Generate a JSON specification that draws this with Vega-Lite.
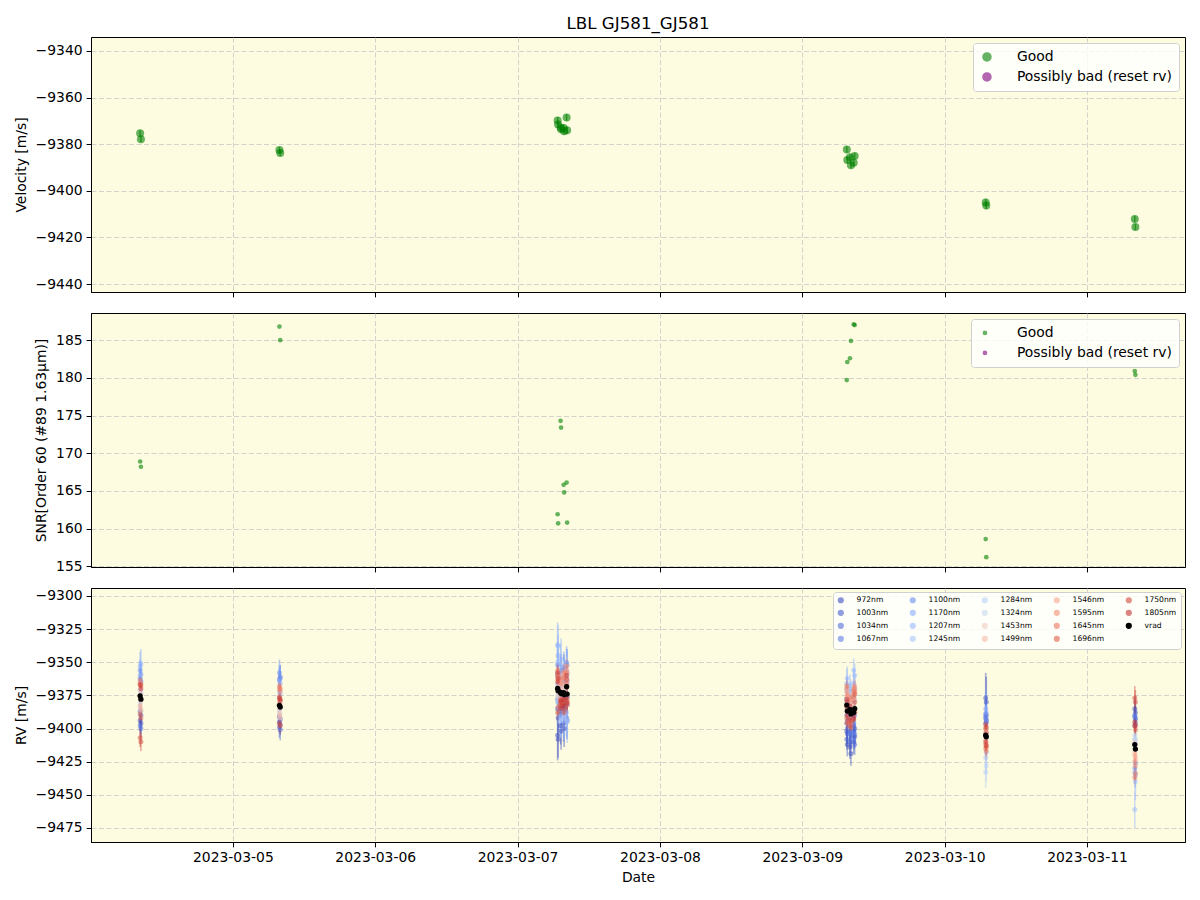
{
"$schema": "https://vega.github.io/schema/vega-lite/v6.json",
"padding": {"left": 13, "top": 15, "right": 15, "bottom": 10},
"title": {"text": "LBL GJ581_GJ581", "fontSize": 16.7, "fontWeight": "normal", "font": "DejaVu Sans", "anchor": "middle", "frame": "group", "offset": 4, "color": "black"},
"bounds": "flush",
"spacing": 21,
"resolve": {"scale": {"color": "independent", "x": "independent", "y": "independent"}, "legend": {"color": "independent"}},
"config": {
  "font": "DejaVu Sans",
  "background": "white",
  "view": {"stroke": "black", "strokeWidth": 1, "fill": "#fdfce1"},
  "axis": {"labelFontSize": 13.9, "titleFontSize": 13.9, "labelColor": "black", "titleColor": "black", "tickColor": "black", "domainColor": "black", "tickSize": 4.9, "labelPadding": 4, "titleFontWeight": "normal", "gridColor": "#c8c8c8", "gridDash": [5, 2.5], "gridWidth": 0.8, "domainWidth": 1, "tickWidth": 1, "titlePadding": 7, "labelFlush": false, "labelOverlap": false},
  "legend": {"title": null, "fillColor": "rgba(255,255,255,0.8)", "strokeColor": "#d0d0d0", "cornerRadius": 3, "labelColor": "black", "labelLimit": 400}
},
"datasets": {
"obs": [
{"o":"1a","t":"2023-03-04T08:22:00Z","vel":-9375.3,"ve":1.3,"snr":168.9,"q":"Good"},
{"o":"1b","t":"2023-03-04T08:30:00Z","vel":-9377.9,"ve":1.3,"snr":168.2,"q":"Good"},
{"o":"2a","t":"2023-03-05T07:51:00Z","vel":-9382.5,"ve":1.3,"snr":186.8,"q":"Good"},
{"o":"2b","t":"2023-03-05T07:59:00Z","vel":-9383.8,"ve":1.3,"snr":185.0,"q":"Good"},
{"o":"3a","t":"2023-03-07T06:45:00Z","vel":-9369.8,"ve":1.5,"snr":161.9,"q":"Good"},
{"o":"3b","t":"2023-03-07T06:50:00Z","vel":-9371.5,"ve":1.5,"snr":160.7,"q":"Good"},
{"o":"3c","t":"2023-03-07T07:15:00Z","vel":-9372.8,"ve":1.4,"snr":174.3,"q":"Good"},
{"o":"3d","t":"2023-03-07T07:20:00Z","vel":-9373.6,"ve":1.4,"snr":173.4,"q":"Good"},
{"o":"3e","t":"2023-03-07T07:46:00Z","vel":-9373.0,"ve":1.5,"snr":165.8,"q":"Good"},
{"o":"3f","t":"2023-03-07T08:16:00Z","vel":-9368.5,"ve":1.5,"snr":166.1,"q":"Good"},
{"o":"3g","t":"2023-03-07T07:51:00Z","vel":-9374.4,"ve":1.5,"snr":164.8,"q":"Good"},
{"o":"3h","t":"2023-03-07T08:21:00Z","vel":-9374.0,"ve":1.5,"snr":160.8,"q":"Good"},
{"o":"4a","t":"2023-03-09T07:30:00Z","vel":-9382.3,"ve":1.4,"snr":179.7,"q":"Good"},
{"o":"4b","t":"2023-03-09T07:35:00Z","vel":-9386.8,"ve":1.4,"snr":182.1,"q":"Good"},
{"o":"4c","t":"2023-03-09T08:02:00Z","vel":-9385.6,"ve":1.3,"snr":182.6,"q":"Good"},
{"o":"4d","t":"2023-03-09T08:12:00Z","vel":-9389.0,"ve":1.3,"snr":184.9,"q":"Good"},
{"o":"4e","t":"2023-03-09T08:40:00Z","vel":-9388.0,"ve":1.3,"snr":187.1,"q":"Good"},
{"o":"4f","t":"2023-03-09T08:50:00Z","vel":-9385.0,"ve":1.3,"snr":187.0,"q":"Good"},
{"o":"5a","t":"2023-03-10T06:55:00Z","vel":-9405.0,"ve":1.6,"snr":158.6,"q":"Good"},
{"o":"5b","t":"2023-03-10T07:01:00Z","vel":-9406.3,"ve":1.6,"snr":156.2,"q":"Good"},
{"o":"6a","t":"2023-03-11T08:03:00Z","vel":-9412.1,"ve":1.4,"snr":180.9,"q":"Good"},
{"o":"6b","t":"2023-03-11T08:09:00Z","vel":-9415.5,"ve":1.4,"snr":180.4,"q":"Good"}
],
"rv": [
{"o":"1a","w":"972nm","v":-9394,"e":8},{"o":"1b","w":"972nm","v":-9396,"e":8},{"o":"2a","w":"972nm","v":-9391,"e":8},{"o":"2b","w":"972nm","v":-9393,"e":8},
{"o":"3a","w":"972nm","v":-9405,"e":19},{"o":"3b","w":"972nm","v":-9408,"e":14},{"o":"3c","w":"972nm","v":-9398,"e":14},{"o":"3d","w":"972nm","v":-9402,"e":14},
{"o":"3e","w":"972nm","v":-9396,"e":14},{"o":"3f","w":"972nm","v":-9392,"e":14},{"o":"3g","w":"972nm","v":-9400,"e":14},{"o":"3h","w":"972nm","v":-9394,"e":14},
{"o":"4a","w":"972nm","v":-9402,"e":9},{"o":"4b","w":"972nm","v":-9412,"e":9},{"o":"4c","w":"972nm","v":-9414,"e":9},{"o":"4d","w":"972nm","v":-9419,"e":9},
{"o":"4e","w":"972nm","v":-9410,"e":9},{"o":"4f","w":"972nm","v":-9406,"e":9},{"o":"5a","w":"972nm","v":-9377,"e":19},{"o":"5b","w":"972nm","v":-9380,"e":19},
{"o":"6a","w":"972nm","v":-9385,"e":9},{"o":"6b","w":"972nm","v":-9388,"e":9},

{"o":"1a","w":"1003nm","v":-9387,"e":7},{"o":"1b","w":"1003nm","v":-9390,"e":7},{"o":"2a","w":"1003nm","v":-9395,"e":8},{"o":"2b","w":"1003nm","v":-9397,"e":8},
{"o":"3a","w":"1003nm","v":-9385,"e":11},{"o":"3b","w":"1003nm","v":-9392,"e":11},{"o":"3c","w":"1003nm","v":-9390,"e":11},{"o":"3d","w":"1003nm","v":-9388,"e":11},
{"o":"3e","w":"1003nm","v":-9384,"e":11},{"o":"3f","w":"1003nm","v":-9380,"e":11},{"o":"3g","w":"1003nm","v":-9386,"e":11},{"o":"3h","w":"1003nm","v":-9382,"e":11},
{"o":"4a","w":"1003nm","v":-9408,"e":8},{"o":"4b","w":"1003nm","v":-9404,"e":8},{"o":"4c","w":"1003nm","v":-9410,"e":8},{"o":"4d","w":"1003nm","v":-9406,"e":8},
{"o":"4e","w":"1003nm","v":-9402,"e":8},{"o":"4f","w":"1003nm","v":-9400,"e":8},{"o":"5a","w":"1003nm","v":-9392,"e":12},{"o":"5b","w":"1003nm","v":-9395,"e":12},
{"o":"6a","w":"1003nm","v":-9391,"e":8},{"o":"6b","w":"1003nm","v":-9393,"e":8},

{"o":"1a","w":"1034nm","v":-9398,"e":7},{"o":"1b","w":"1034nm","v":-9400,"e":7},{"o":"2a","w":"1034nm","v":-9399,"e":8},{"o":"2b","w":"1034nm","v":-9401,"e":8},
{"o":"3a","w":"1034nm","v":-9378,"e":10},{"o":"3b","w":"1034nm","v":-9380,"e":10},{"o":"3c","w":"1034nm","v":-9384,"e":10},{"o":"3d","w":"1034nm","v":-9376,"e":10},
{"o":"3e","w":"1034nm","v":-9378,"e":10},{"o":"3f","w":"1034nm","v":-9374,"e":10},{"o":"3g","w":"1034nm","v":-9380,"e":10},{"o":"3h","w":"1034nm","v":-9376,"e":10},
{"o":"4a","w":"1034nm","v":-9396,"e":8},{"o":"4b","w":"1034nm","v":-9400,"e":8},{"o":"4c","w":"1034nm","v":-9402,"e":8},{"o":"4d","w":"1034nm","v":-9404,"e":8},
{"o":"4e","w":"1034nm","v":-9398,"e":8},{"o":"4f","w":"1034nm","v":-9412,"e":8},{"o":"5a","w":"1034nm","v":-9389,"e":11},{"o":"5b","w":"1034nm","v":-9390,"e":11},
{"o":"6a","w":"1034nm","v":-9398,"e":8},{"o":"6b","w":"1034nm","v":-9396,"e":8},

{"o":"1a","w":"1067nm","v":-9362,"e":7},{"o":"1b","w":"1067nm","v":-9365,"e":7},{"o":"2a","w":"1067nm","v":-9363,"e":9},{"o":"2b","w":"1067nm","v":-9361,"e":9},
{"o":"3a","w":"1067nm","v":-9360,"e":10},{"o":"3b","w":"1067nm","v":-9366,"e":10},{"o":"3c","w":"1067nm","v":-9372,"e":10},{"o":"3d","w":"1067nm","v":-9368,"e":10},
{"o":"3e","w":"1067nm","v":-9364,"e":10},{"o":"3f","w":"1067nm","v":-9362,"e":10},{"o":"3g","w":"1067nm","v":-9366,"e":10},{"o":"3h","w":"1067nm","v":-9364,"e":10},
{"o":"4a","w":"1067nm","v":-9390,"e":8},{"o":"4b","w":"1067nm","v":-9394,"e":8},{"o":"4c","w":"1067nm","v":-9404,"e":8},{"o":"4d","w":"1067nm","v":-9398,"e":8},
{"o":"4e","w":"1067nm","v":-9408,"e":8},{"o":"4f","w":"1067nm","v":-9404,"e":8},{"o":"5a","w":"1067nm","v":-9396,"e":11},{"o":"5b","w":"1067nm","v":-9394,"e":11},
{"o":"6a","w":"1067nm","v":-9390,"e":8},{"o":"6b","w":"1067nm","v":-9392,"e":8},

{"o":"1a","w":"1100nm","v":-9356,"e":8},{"o":"1b","w":"1100nm","v":-9359,"e":8},{"o":"2a","w":"1100nm","v":-9358,"e":10},{"o":"2b","w":"1100nm","v":-9362,"e":10},
{"o":"3a","w":"1100nm","v":-9352,"e":12},{"o":"3b","w":"1100nm","v":-9358,"e":12},{"o":"3c","w":"1100nm","v":-9362,"e":12},{"o":"3d","w":"1100nm","v":-9356,"e":12},
{"o":"3e","w":"1100nm","v":-9354,"e":12},{"o":"3f","w":"1100nm","v":-9350,"e":12},{"o":"3g","w":"1100nm","v":-9356,"e":12},{"o":"3h","w":"1100nm","v":-9352,"e":12},
{"o":"4a","w":"1100nm","v":-9378,"e":9},{"o":"4b","w":"1100nm","v":-9384,"e":9},{"o":"4c","w":"1100nm","v":-9392,"e":9},{"o":"4d","w":"1100nm","v":-9388,"e":9},
{"o":"4e","w":"1100nm","v":-9396,"e":9},{"o":"4f","w":"1100nm","v":-9390,"e":9},{"o":"5a","w":"1100nm","v":-9391,"e":12},{"o":"5b","w":"1100nm","v":-9393,"e":12},
{"o":"6a","w":"1100nm","v":-9430,"e":9},{"o":"6b","w":"1100nm","v":-9426,"e":9},

{"o":"1a","w":"1170nm","v":-9353,"e":11},{"o":"1b","w":"1170nm","v":-9351,"e":11},{"o":"2a","w":"1170nm","v":-9364,"e":12},{"o":"2b","w":"1170nm","v":-9366,"e":12},
{"o":"3a","w":"1170nm","v":-9337,"e":17},{"o":"3b","w":"1170nm","v":-9345,"e":16},{"o":"3c","w":"1170nm","v":-9352,"e":16},{"o":"3d","w":"1170nm","v":-9348,"e":16},
{"o":"3e","w":"1170nm","v":-9360,"e":16},{"o":"3f","w":"1170nm","v":-9356,"e":16},{"o":"3g","w":"1170nm","v":-9362,"e":16},{"o":"3h","w":"1170nm","v":-9358,"e":16},
{"o":"4a","w":"1170nm","v":-9366,"e":11},{"o":"4b","w":"1170nm","v":-9372,"e":11},{"o":"4c","w":"1170nm","v":-9376,"e":11},{"o":"4d","w":"1170nm","v":-9380,"e":11},
{"o":"4e","w":"1170nm","v":-9366,"e":11},{"o":"4f","w":"1170nm","v":-9370,"e":11},{"o":"5a","w":"1170nm","v":-9385,"e":14},{"o":"5b","w":"1170nm","v":-9388,"e":14},
{"o":"6a","w":"1170nm","v":-9433,"e":11},{"o":"6b","w":"1170nm","v":-9435,"e":11},

{"o":"1a","w":"1207nm","v":-9360,"e":10},{"o":"1b","w":"1207nm","v":-9364,"e":10},{"o":"2a","w":"1207nm","v":-9372,"e":12},{"o":"2b","w":"1207nm","v":-9374,"e":12},
{"o":"3a","w":"1207nm","v":-9350,"e":16},{"o":"3b","w":"1207nm","v":-9338,"e":16},{"o":"3c","w":"1207nm","v":-9390,"e":16},{"o":"3d","w":"1207nm","v":-9386,"e":16},
{"o":"3e","w":"1207nm","v":-9394,"e":16},{"o":"3f","w":"1207nm","v":-9388,"e":16},{"o":"3g","w":"1207nm","v":-9392,"e":16},{"o":"3h","w":"1207nm","v":-9395,"e":16},
{"o":"4a","w":"1207nm","v":-9370,"e":9},{"o":"4b","w":"1207nm","v":-9362,"e":9},{"o":"4c","w":"1207nm","v":-9368,"e":9},{"o":"4d","w":"1207nm","v":-9372,"e":9},
{"o":"4e","w":"1207nm","v":-9356,"e":9},{"o":"4f","w":"1207nm","v":-9360,"e":9},{"o":"5a","w":"1207nm","v":-9404,"e":14},{"o":"5b","w":"1207nm","v":-9406,"e":14},
{"o":"6a","w":"1207nm","v":-9461,"e":14},{"o":"6b","w":"1207nm","v":-9440,"e":14},

{"o":"1a","w":"1245nm","v":-9371,"e":9},{"o":"1b","w":"1245nm","v":-9373,"e":9},{"o":"2a","w":"1245nm","v":-9386,"e":10},{"o":"2b","w":"1245nm","v":-9383,"e":10},
{"o":"3a","w":"1245nm","v":-9368,"e":14},{"o":"3b","w":"1245nm","v":-9360,"e":14},{"o":"3c","w":"1245nm","v":-9394,"e":14},{"o":"3d","w":"1245nm","v":-9392,"e":14},
{"o":"3e","w":"1245nm","v":-9388,"e":14},{"o":"3f","w":"1245nm","v":-9392,"e":14},{"o":"3g","w":"1245nm","v":-9390,"e":14},{"o":"3h","w":"1245nm","v":-9394,"e":14},
{"o":"4a","w":"1245nm","v":-9380,"e":10},{"o":"4b","w":"1245nm","v":-9386,"e":10},{"o":"4c","w":"1245nm","v":-9390,"e":10},{"o":"4d","w":"1245nm","v":-9392,"e":10},
{"o":"4e","w":"1245nm","v":-9385,"e":10},{"o":"4f","w":"1245nm","v":-9378,"e":10},{"o":"5a","w":"1245nm","v":-9422,"e":13},{"o":"5b","w":"1245nm","v":-9418,"e":13},
{"o":"6a","w":"1245nm","v":-9408,"e":10},{"o":"6b","w":"1245nm","v":-9411,"e":10},

{"o":"1a","w":"1284nm","v":-9381,"e":9},{"o":"1b","w":"1284nm","v":-9378,"e":9},{"o":"2a","w":"1284nm","v":-9389,"e":10},{"o":"2b","w":"1284nm","v":-9392,"e":10},
{"o":"3a","w":"1284nm","v":-9375,"e":12},{"o":"3b","w":"1284nm","v":-9378,"e":12},{"o":"3c","w":"1284nm","v":-9370,"e":12},{"o":"3d","w":"1284nm","v":-9372,"e":12},
{"o":"3e","w":"1284nm","v":-9368,"e":12},{"o":"3f","w":"1284nm","v":-9364,"e":12},{"o":"3g","w":"1284nm","v":-9370,"e":12},{"o":"3h","w":"1284nm","v":-9366,"e":12},
{"o":"4a","w":"1284nm","v":-9376,"e":9},{"o":"4b","w":"1284nm","v":-9380,"e":9},{"o":"4c","w":"1284nm","v":-9384,"e":9},{"o":"4d","w":"1284nm","v":-9386,"e":9},
{"o":"4e","w":"1284nm","v":-9380,"e":9},{"o":"4f","w":"1284nm","v":-9374,"e":9},{"o":"5a","w":"1284nm","v":-9433,"e":12},{"o":"5b","w":"1284nm","v":-9428,"e":12},
{"o":"6a","w":"1284nm","v":-9405,"e":9},{"o":"6b","w":"1284nm","v":-9408,"e":9},

{"o":"1a","w":"1324nm","v":-9384,"e":9},{"o":"1b","w":"1324nm","v":-9387,"e":9},{"o":"2a","w":"1324nm","v":-9377,"e":9},{"o":"2b","w":"1324nm","v":-9379,"e":9},
{"o":"3a","w":"1324nm","v":-9380,"e":12},{"o":"3b","w":"1324nm","v":-9384,"e":12},{"o":"3c","w":"1324nm","v":-9366,"e":12},{"o":"3d","w":"1324nm","v":-9362,"e":12},
{"o":"3e","w":"1324nm","v":-9360,"e":12},{"o":"3f","w":"1324nm","v":-9358,"e":12},{"o":"3g","w":"1324nm","v":-9362,"e":12},{"o":"3h","w":"1324nm","v":-9360,"e":12},
{"o":"4a","w":"1324nm","v":-9372,"e":9},{"o":"4b","w":"1324nm","v":-9378,"e":9},{"o":"4c","w":"1324nm","v":-9374,"e":9},{"o":"4d","w":"1324nm","v":-9380,"e":9},
{"o":"4e","w":"1324nm","v":-9376,"e":9},{"o":"4f","w":"1324nm","v":-9370,"e":9},{"o":"5a","w":"1324nm","v":-9404,"e":12},{"o":"5b","w":"1324nm","v":-9407,"e":12},
{"o":"6a","w":"1324nm","v":-9412,"e":9},{"o":"6b","w":"1324nm","v":-9415,"e":9},

{"o":"1a","w":"1453nm","v":-9371,"e":6},{"o":"1b","w":"1453nm","v":-9374,"e":6},{"o":"2a","w":"1453nm","v":-9387,"e":6},{"o":"2b","w":"1453nm","v":-9389,"e":6},
{"o":"3a","w":"1453nm","v":-9372,"e":8},{"o":"3b","w":"1453nm","v":-9376,"e":8},{"o":"3c","w":"1453nm","v":-9374,"e":8},{"o":"3d","w":"1453nm","v":-9378,"e":8},
{"o":"3e","w":"1453nm","v":-9370,"e":8},{"o":"3f","w":"1453nm","v":-9366,"e":8},{"o":"3g","w":"1453nm","v":-9372,"e":8},{"o":"3h","w":"1453nm","v":-9368,"e":8},
{"o":"4a","w":"1453nm","v":-9380,"e":6},{"o":"4b","w":"1453nm","v":-9384,"e":6},{"o":"4c","w":"1453nm","v":-9386,"e":6},{"o":"4d","w":"1453nm","v":-9388,"e":6},
{"o":"4e","w":"1453nm","v":-9382,"e":6},{"o":"4f","w":"1453nm","v":-9378,"e":6},{"o":"5a","w":"1453nm","v":-9402,"e":8},{"o":"5b","w":"1453nm","v":-9404,"e":8},
{"o":"6a","w":"1453nm","v":-9410,"e":6},{"o":"6b","w":"1453nm","v":-9414,"e":6},

{"o":"1a","w":"1499nm","v":-9376,"e":5},{"o":"1b","w":"1499nm","v":-9379,"e":5},{"o":"2a","w":"1499nm","v":-9390,"e":6},{"o":"2b","w":"1499nm","v":-9392,"e":6},
{"o":"3a","w":"1499nm","v":-9362,"e":7},{"o":"3b","w":"1499nm","v":-9368,"e":7},{"o":"3c","w":"1499nm","v":-9370,"e":7},{"o":"3d","w":"1499nm","v":-9372,"e":7},
{"o":"3e","w":"1499nm","v":-9366,"e":7},{"o":"3f","w":"1499nm","v":-9362,"e":7},{"o":"3g","w":"1499nm","v":-9368,"e":7},{"o":"3h","w":"1499nm","v":-9364,"e":7},
{"o":"4a","w":"1499nm","v":-9376,"e":6},{"o":"4b","w":"1499nm","v":-9380,"e":6},{"o":"4c","w":"1499nm","v":-9382,"e":6},{"o":"4d","w":"1499nm","v":-9384,"e":6},
{"o":"4e","w":"1499nm","v":-9378,"e":6},{"o":"4f","w":"1499nm","v":-9374,"e":6},{"o":"5a","w":"1499nm","v":-9400,"e":7},{"o":"5b","w":"1499nm","v":-9403,"e":7},
{"o":"6a","w":"1499nm","v":-9418,"e":6},{"o":"6b","w":"1499nm","v":-9421,"e":6},

{"o":"1a","w":"1546nm","v":-9383,"e":5},{"o":"1b","w":"1546nm","v":-9386,"e":5},{"o":"2a","w":"1546nm","v":-9380,"e":5},{"o":"2b","w":"1546nm","v":-9382,"e":5},
{"o":"3a","w":"1546nm","v":-9358,"e":6},{"o":"3b","w":"1546nm","v":-9362,"e":6},{"o":"3c","w":"1546nm","v":-9366,"e":6},{"o":"3d","w":"1546nm","v":-9364,"e":6},
{"o":"3e","w":"1546nm","v":-9360,"e":6},{"o":"3f","w":"1546nm","v":-9356,"e":6},{"o":"3g","w":"1546nm","v":-9362,"e":6},{"o":"3h","w":"1546nm","v":-9358,"e":6},
{"o":"4a","w":"1546nm","v":-9372,"e":5},{"o":"4b","w":"1546nm","v":-9376,"e":5},{"o":"4c","w":"1546nm","v":-9378,"e":5},{"o":"4d","w":"1546nm","v":-9380,"e":5},
{"o":"4e","w":"1546nm","v":-9374,"e":5},{"o":"4f","w":"1546nm","v":-9370,"e":5},{"o":"5a","w":"1546nm","v":-9408,"e":6},{"o":"5b","w":"1546nm","v":-9411,"e":6},
{"o":"6a","w":"1546nm","v":-9420,"e":5},{"o":"6b","w":"1546nm","v":-9423,"e":5},

{"o":"1a","w":"1595nm","v":-9366,"e":5},{"o":"1b","w":"1595nm","v":-9368,"e":5},{"o":"2a","w":"1595nm","v":-9370,"e":5},{"o":"2b","w":"1595nm","v":-9372,"e":5},
{"o":"3a","w":"1595nm","v":-9356,"e":6},{"o":"3b","w":"1595nm","v":-9360,"e":6},{"o":"3c","w":"1595nm","v":-9362,"e":6},{"o":"3d","w":"1595nm","v":-9366,"e":6},
{"o":"3e","w":"1595nm","v":-9357,"e":6},{"o":"3f","w":"1595nm","v":-9353,"e":6},{"o":"3g","w":"1595nm","v":-9359,"e":6},{"o":"3h","w":"1595nm","v":-9380,"e":6},
{"o":"4a","w":"1595nm","v":-9370,"e":5},{"o":"4b","w":"1595nm","v":-9374,"e":5},{"o":"4c","w":"1595nm","v":-9376,"e":5},{"o":"4d","w":"1595nm","v":-9378,"e":5},
{"o":"4e","w":"1595nm","v":-9372,"e":5},{"o":"4f","w":"1595nm","v":-9368,"e":5},{"o":"5a","w":"1595nm","v":-9412,"e":6},{"o":"5b","w":"1595nm","v":-9414,"e":6},
{"o":"6a","w":"1595nm","v":-9425,"e":5},{"o":"6b","w":"1595nm","v":-9428,"e":5},

{"o":"1a","w":"1645nm","v":-9364,"e":5},{"o":"1b","w":"1645nm","v":-9367,"e":5},{"o":"2a","w":"1645nm","v":-9368,"e":5},{"o":"2b","w":"1645nm","v":-9370,"e":5},
{"o":"3a","w":"1645nm","v":-9360,"e":6},{"o":"3b","w":"1645nm","v":-9364,"e":6},{"o":"3c","w":"1645nm","v":-9378,"e":6},{"o":"3d","w":"1645nm","v":-9380,"e":6},
{"o":"3e","w":"1645nm","v":-9362,"e":6},{"o":"3f","w":"1645nm","v":-9358,"e":6},{"o":"3g","w":"1645nm","v":-9380,"e":6},{"o":"3h","w":"1645nm","v":-9382,"e":6},
{"o":"4a","w":"1645nm","v":-9368,"e":5},{"o":"4b","w":"1645nm","v":-9396,"e":5},{"o":"4c","w":"1645nm","v":-9394,"e":5},{"o":"4d","w":"1645nm","v":-9396,"e":5},
{"o":"4e","w":"1645nm","v":-9370,"e":5},{"o":"4f","w":"1645nm","v":-9372,"e":5},{"o":"5a","w":"1645nm","v":-9415,"e":6},{"o":"5b","w":"1645nm","v":-9417,"e":6},
{"o":"6a","w":"1645nm","v":-9437,"e":5},{"o":"6b","w":"1645nm","v":-9434,"e":5},

{"o":"1a","w":"1696nm","v":-9389,"e":5},{"o":"1b","w":"1696nm","v":-9392,"e":5},{"o":"2a","w":"1696nm","v":-9376,"e":5},{"o":"2b","w":"1696nm","v":-9378,"e":5},
{"o":"3a","w":"1696nm","v":-9388,"e":6},{"o":"3b","w":"1696nm","v":-9384,"e":6},{"o":"3c","w":"1696nm","v":-9382,"e":6},{"o":"3d","w":"1696nm","v":-9378,"e":6},
{"o":"3e","w":"1696nm","v":-9378,"e":6},{"o":"3f","w":"1696nm","v":-9366,"e":6},{"o":"3g","w":"1696nm","v":-9385,"e":6},{"o":"3h","w":"1696nm","v":-9379,"e":6},
{"o":"4a","w":"1696nm","v":-9392,"e":5},{"o":"4b","w":"1696nm","v":-9395,"e":5},{"o":"4c","w":"1696nm","v":-9398,"e":5},{"o":"4d","w":"1696nm","v":-9399,"e":5},
{"o":"4e","w":"1696nm","v":-9376,"e":5},{"o":"4f","w":"1696nm","v":-9374,"e":5},{"o":"5a","w":"1696nm","v":-9400,"e":6},{"o":"5b","w":"1696nm","v":-9403,"e":6},
{"o":"6a","w":"1696nm","v":-9398,"e":5},{"o":"6b","w":"1696nm","v":-9401,"e":5},

{"o":"1a","w":"1750nm","v":-9407,"e":7},{"o":"1b","w":"1750nm","v":-9410,"e":7},{"o":"2a","w":"1750nm","v":-9396,"e":6},{"o":"2b","w":"1750nm","v":-9398,"e":6},
{"o":"3a","w":"1750nm","v":-9365,"e":7},{"o":"3b","w":"1750nm","v":-9370,"e":7},{"o":"3c","w":"1750nm","v":-9380,"e":7},{"o":"3d","w":"1750nm","v":-9383,"e":7},
{"o":"3e","w":"1750nm","v":-9381,"e":7},{"o":"3f","w":"1750nm","v":-9363,"e":7},{"o":"3g","w":"1750nm","v":-9388,"e":7},{"o":"3h","w":"1750nm","v":-9377,"e":7},
{"o":"4a","w":"1750nm","v":-9384,"e":6},{"o":"4b","w":"1750nm","v":-9390,"e":6},{"o":"4c","w":"1750nm","v":-9392,"e":6},{"o":"4d","w":"1750nm","v":-9394,"e":6},
{"o":"4e","w":"1750nm","v":-9393,"e":6},{"o":"4f","w":"1750nm","v":-9380,"e":6},{"o":"5a","w":"1750nm","v":-9397,"e":7},{"o":"5b","w":"1750nm","v":-9399,"e":7},
{"o":"6a","w":"1750nm","v":-9377,"e":9},{"o":"6b","w":"1750nm","v":-9380,"e":9},

{"o":"1a","w":"1805nm","v":-9367,"e":6},{"o":"1b","w":"1805nm","v":-9370,"e":6},{"o":"2a","w":"1805nm","v":-9377,"e":6},{"o":"2b","w":"1805nm","v":-9379,"e":6},
{"o":"3a","w":"1805nm","v":-9358,"e":7},{"o":"3b","w":"1805nm","v":-9362,"e":7},{"o":"3c","w":"1805nm","v":-9385,"e":7},{"o":"3d","w":"1805nm","v":-9379,"e":7},
{"o":"3e","w":"1805nm","v":-9383,"e":7},{"o":"3f","w":"1805nm","v":-9360,"e":7},{"o":"3g","w":"1805nm","v":-9378,"e":7},{"o":"3h","w":"1805nm","v":-9381,"e":7},
{"o":"4a","w":"1805nm","v":-9378,"e":6},{"o":"4b","w":"1805nm","v":-9380,"e":6},{"o":"4c","w":"1805nm","v":-9383,"e":6},{"o":"4d","w":"1805nm","v":-9386,"e":6},
{"o":"4e","w":"1805nm","v":-9391,"e":6},{"o":"4f","w":"1805nm","v":-9388,"e":6},{"o":"5a","w":"1805nm","v":-9410,"e":7},{"o":"5b","w":"1805nm","v":-9413,"e":7},
{"o":"6a","w":"1805nm","v":-9395,"e":6},{"o":"6b","w":"1805nm","v":-9398,"e":6}
]
},
"vconcat": [
{
 "width": 1094, "height": 255,
 "data": {"name": "obs"},
 "encoding": {
   "x": {"field": "t", "type": "temporal", "scale": {"type": "utc", "domain": [{"year":2023,"month":3,"date":4,"hours":0,"minutes":5,"utc":true},{"year":2023,"month":3,"date":11,"hours":16,"minutes":31,"utc":true}]},
         "axis": {"title": null, "labels": false, "grid": true, "values": [{"year":2023,"month":3,"date":5,"utc":true},{"year":2023,"month":3,"date":6,"utc":true},{"year":2023,"month":3,"date":7,"utc":true},{"year":2023,"month":3,"date":8,"utc":true},{"year":2023,"month":3,"date":9,"utc":true},{"year":2023,"month":3,"date":10,"utc":true},{"year":2023,"month":3,"date":11,"utc":true}]}},
   "y": {"field": "vel", "type": "quantitative", "scale": {"domain": [-9443.4, -9334], "nice": false, "zero": false},
         "axis": {"title": "Velocity [m/s]", "grid": true, "format": "d", "values": [-9440, -9420, -9400, -9380, -9360, -9340]}},
   "color": {"field": "q", "type": "nominal", "scale": {"domain": ["Good", "Possibly bad (reset rv)"], "range": ["green", "purple"]},
             "legend": {"orient": "top-right", "offset": 6, "padding": 7, "labelFontSize": 13.9, "symbolSize": 64, "rowPadding": 5, "labelOffset": 23, "symbolType": "circle", "symbolOpacity": 0.6}}
 },
 "layer": [
   {"mark": {"type": "point", "filled": true, "size": 64, "opacity": 0.6}},
   {"mark": {"type": "errorbar", "ticks": false, "opacity": 0.6, "rule": {"strokeWidth": 1.5}}, "encoding": {"yError": {"field": "ve"}}}
 ]
},
{
 "width": 1094, "height": 254,
 "data": {"name": "obs"},
 "encoding": {
   "x": {"field": "t", "type": "temporal", "scale": {"type": "utc", "domain": [{"year":2023,"month":3,"date":4,"hours":0,"minutes":5,"utc":true},{"year":2023,"month":3,"date":11,"hours":16,"minutes":31,"utc":true}]},
         "axis": {"title": null, "labels": false, "grid": true, "values": [{"year":2023,"month":3,"date":5,"utc":true},{"year":2023,"month":3,"date":6,"utc":true},{"year":2023,"month":3,"date":7,"utc":true},{"year":2023,"month":3,"date":8,"utc":true},{"year":2023,"month":3,"date":9,"utc":true},{"year":2023,"month":3,"date":10,"utc":true},{"year":2023,"month":3,"date":11,"utc":true}]}},
   "y": {"field": "snr", "type": "quantitative", "scale": {"domain": [154.9, 188.6], "nice": false, "zero": false},
         "axis": {"title": "SNR[Order 60 (#89 1.63μm)]", "grid": true, "format": "d", "values": [155, 160, 165, 170, 175, 180, 185]}},
   "color": {"field": "q", "type": "nominal", "scale": {"domain": ["Good", "Possibly bad (reset rv)"], "range": ["green", "purple"]},
             "legend": {"orient": "top-right", "offset": 6, "padding": 7, "labelFontSize": 13.9, "symbolSize": 22, "rowPadding": 5, "labelOffset": 25, "symbolType": "circle", "symbolOpacity": 0.6}}
 },
 "mark": {"type": "point", "filled": true, "size": 22, "opacity": 0.6}
},
{
 "width": 1094, "height": 254,
 "layer": [
   {
    "data": {"name": "rv"},
    "transform": [{"lookup": "o", "from": {"data": {"name": "obs"}, "key": "o", "fields": ["t"]}}],
    "mark": {"type": "errorbar", "ticks": false, "opacity": 0.45, "rule": {"strokeWidth": 1.6}},
    "encoding": {
      "x": {"field": "t", "type": "temporal", "scale": {"type": "utc", "domain": [{"year":2023,"month":3,"date":4,"hours":0,"minutes":5,"utc":true},{"year":2023,"month":3,"date":11,"hours":16,"minutes":31,"utc":true}]},
            "axis": {"title": "Date", "labels": true, "grid": true, "labelExpr": "utcFormat(datum.value, '%Y-%m-%d')", "titlePadding": 6, "values": [{"year":2023,"month":3,"date":5,"utc":true},{"year":2023,"month":3,"date":6,"utc":true},{"year":2023,"month":3,"date":7,"utc":true},{"year":2023,"month":3,"date":8,"utc":true},{"year":2023,"month":3,"date":9,"utc":true},{"year":2023,"month":3,"date":10,"utc":true},{"year":2023,"month":3,"date":11,"utc":true}]}},
      "y": {"field": "v", "type": "quantitative", "scale": {"domain": [-9485.6, -9294], "nice": false, "zero": false},
            "axis": {"title": "RV [m/s]", "grid": true, "format": "d", "values": [-9475, -9450, -9425, -9400, -9375, -9350, -9325, -9300]}},
      "yError": {"field": "e"},
      "color": {"field": "w", "type": "nominal",
        "scale": {"domain": ["972nm","1003nm","1034nm","1067nm","1100nm","1170nm","1207nm","1245nm","1284nm","1324nm","1453nm","1499nm","1546nm","1595nm","1645nm","1696nm","1750nm","1805nm","vrad"],
                  "range": ["#3b4cc0","#455bcd","#516cdb","#5e7de7","#6b8df0","#89acfd","#98b9ff","#a7c7fd","#b7d1f8","#c6d9ef","#f0ccbf","#f7baa6","#faa68d","#f48e74","#ec755d","#de604b","#d0473d","#c43232","#000000"]},
        "legend": {"orient": "top-right", "offset": 4, "columns": 5, "padding": 4, "labelFontSize": 7.6, "symbolSize": 22, "rowPadding": 1, "columnPadding": 18, "labelOffset": 12, "symbolType": "circle", "symbolOpacity": 0.6,
                   "encode": {"symbols": {"update": {"opacity": {"signal": "datum.value === 'vrad' ? 1 : 0.6"}}}}}}
    }
   },
   {
    "data": {"name": "rv"},
    "transform": [{"lookup": "o", "from": {"data": {"name": "obs"}, "key": "o", "fields": ["t"]}}],
    "mark": {"type": "point", "filled": true, "size": 25, "opacity": 0.5},
    "encoding": {
      "x": {"field": "t", "type": "temporal",
            "axis": {"title": "Date", "labels": true, "grid": true, "labelExpr": "utcFormat(datum.value, '%Y-%m-%d')", "titlePadding": 6, "values": [{"year":2023,"month":3,"date":5,"utc":true},{"year":2023,"month":3,"date":6,"utc":true},{"year":2023,"month":3,"date":7,"utc":true},{"year":2023,"month":3,"date":8,"utc":true},{"year":2023,"month":3,"date":9,"utc":true},{"year":2023,"month":3,"date":10,"utc":true},{"year":2023,"month":3,"date":11,"utc":true}]}},
      "y": {"field": "v", "type": "quantitative",
            "axis": {"title": "RV [m/s]", "grid": true, "format": "d", "values": [-9475, -9450, -9425, -9400, -9375, -9350, -9325, -9300]}},
      "color": {"field": "w", "type": "nominal"}
    }
   },
   {
    "data": {"name": "obs"},
    "mark": {"type": "errorbar", "ticks": false, "opacity": 1, "rule": {"strokeWidth": 1.6}},
    "encoding": {
      "x": {"field": "t", "type": "temporal",
            "axis": {"title": "Date", "labels": true, "grid": true, "labelExpr": "utcFormat(datum.value, '%Y-%m-%d')", "titlePadding": 6, "values": [{"year":2023,"month":3,"date":5,"utc":true},{"year":2023,"month":3,"date":6,"utc":true},{"year":2023,"month":3,"date":7,"utc":true},{"year":2023,"month":3,"date":8,"utc":true},{"year":2023,"month":3,"date":9,"utc":true},{"year":2023,"month":3,"date":10,"utc":true},{"year":2023,"month":3,"date":11,"utc":true}]}},
      "y": {"field": "vel", "type": "quantitative",
            "axis": {"title": "RV [m/s]", "grid": true, "format": "d", "values": [-9475, -9450, -9425, -9400, -9375, -9350, -9325, -9300]}},
      "yError": {"field": "ve"},
      "color": {"datum": "vrad", "type": "nominal"}
    }
   },
   {
    "data": {"name": "obs"},
    "mark": {"type": "point", "filled": true, "size": 28, "opacity": 1},
    "encoding": {
      "x": {"field": "t", "type": "temporal",
            "axis": {"title": "Date", "labels": true, "grid": true, "labelExpr": "utcFormat(datum.value, '%Y-%m-%d')", "titlePadding": 6, "values": [{"year":2023,"month":3,"date":5,"utc":true},{"year":2023,"month":3,"date":6,"utc":true},{"year":2023,"month":3,"date":7,"utc":true},{"year":2023,"month":3,"date":8,"utc":true},{"year":2023,"month":3,"date":9,"utc":true},{"year":2023,"month":3,"date":10,"utc":true},{"year":2023,"month":3,"date":11,"utc":true}]}},
      "y": {"field": "vel", "type": "quantitative",
            "axis": {"title": "RV [m/s]", "grid": true, "format": "d", "values": [-9475, -9450, -9425, -9400, -9375, -9350, -9325, -9300]}},
      "color": {"datum": "vrad", "type": "nominal"}
    }
   }
 ]
}
]
}
